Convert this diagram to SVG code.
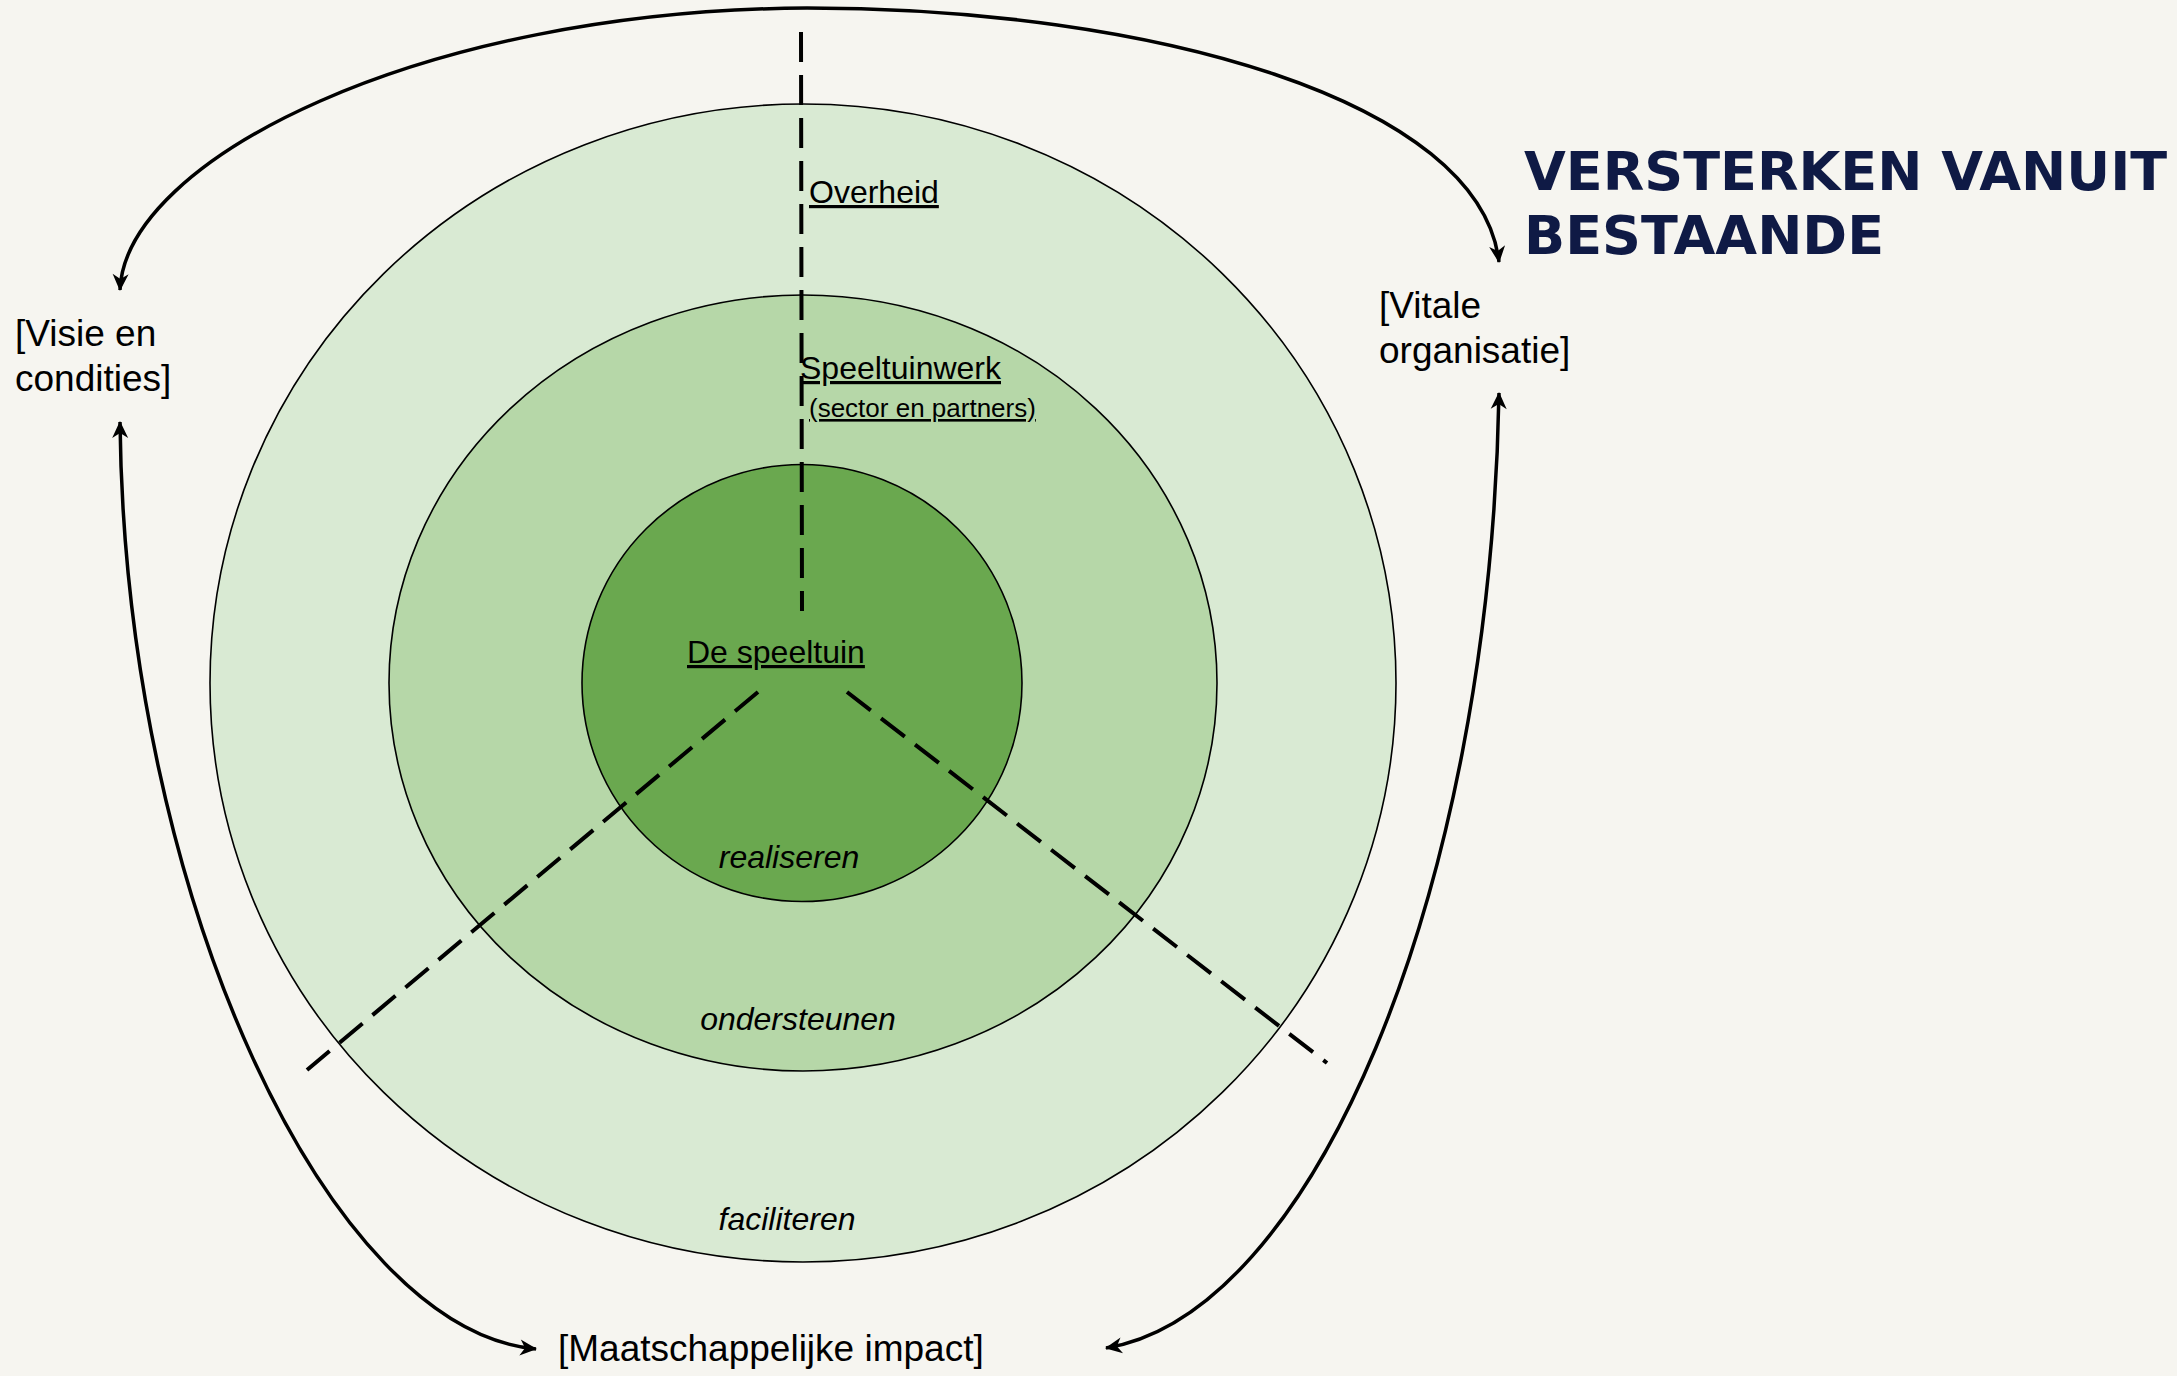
<svg xmlns="http://www.w3.org/2000/svg" width="2177" height="1376" viewBox="0 0 2177 1376">
<defs>
<style>
.ring{stroke:#000;stroke-width:1.6}
.lbl{font-family:"Liberation Sans",Arial,sans-serif;fill:#000}
.u{text-decoration:underline}
.it{font-style:italic;font-size:32px}
.br{font-size:37px}
.title{font-family:"DejaVu Sans",Verdana,sans-serif;font-weight:bold;font-size:54px;fill:#0f1a45}
.arrow{fill:none;stroke:#000;stroke-width:3.5}
.dash{fill:none;stroke:#000;stroke-width:4;stroke-dasharray:30 13}
</style>
<marker id="ah" viewBox="-18 -10 20 20" refX="0" refY="0" markerWidth="20" markerHeight="20" markerUnits="userSpaceOnUse" orient="auto-start-reverse">
<path d="M1,0 L-16,-8 L-11,0 L-16,8 Z" fill="#000"/>
</marker>
</defs>
<rect width="2177" height="1376" fill="#f6f5f0"/>
<g id="overheid">
<ellipse class="ring" cx="803" cy="683" rx="593" ry="579" fill="#d9ead3"/>
<text class="lbl u" x="809" y="203" font-size="32">Overheid</text>
<text class="lbl it" x="787" y="1230" text-anchor="middle">faciliteren</text>
</g>
<g id="speeltuinwerk">
<ellipse class="ring" cx="803" cy="683" rx="414" ry="388" fill="#b6d7a8"/>
<text class="lbl u" x="800" y="379" font-size="32">Speeltuinwerk</text>
<text class="lbl u" x="809" y="417" font-size="26">(sector en partners)</text>
<text class="lbl it" x="798" y="1030" text-anchor="middle">ondersteunen</text>
</g>
<g id="speeltuin">
<ellipse class="ring" cx="802" cy="683" rx="220" ry="218.5" fill="#6aa84f"/>
<text class="lbl u" x="687" y="663" font-size="32">De speeltuin</text>
<text class="lbl it" x="789" y="868" text-anchor="middle">realiseren</text>
</g>
<g id="connectors">
<line class="dash" x1="801" y1="32" x2="802" y2="611"/>
<line class="dash" x1="758" y1="692" x2="307" y2="1070"/>
<line class="dash" x1="847" y1="692" x2="1327" y2="1063"/>
<path class="arrow" d="M120,290 C125,160 420,10 807,8 C1150,8 1480,100 1499,262" marker-start="url(#ah)" marker-end="url(#ah)"/>
<path class="arrow" d="M120,422 C125,900 330,1330 536,1349" marker-start="url(#ah)" marker-end="url(#ah)"/>
<path class="arrow" d="M1499,393 C1490,900 1310,1315 1106,1348" marker-start="url(#ah)" marker-end="url(#ah)"/>
</g>
<g id="visie">
<text class="lbl br" x="15" y="346">[Visie en</text>
<text class="lbl br" x="15" y="391">condities]</text>
</g>
<g id="vitale">
<text class="lbl br" x="1379" y="318">[Vitale</text>
<text class="lbl br" x="1379" y="363">organisatie]</text>
</g>
<g id="impact">
<text class="lbl br" x="558" y="1361">[Maatschappelijke impact]</text>
</g>
<g id="title">
<text class="title" x="1524" y="190">VERSTERKEN VANUIT</text>
<text class="title" x="1524" y="254">BESTAANDE</text>
</g>
</svg>
